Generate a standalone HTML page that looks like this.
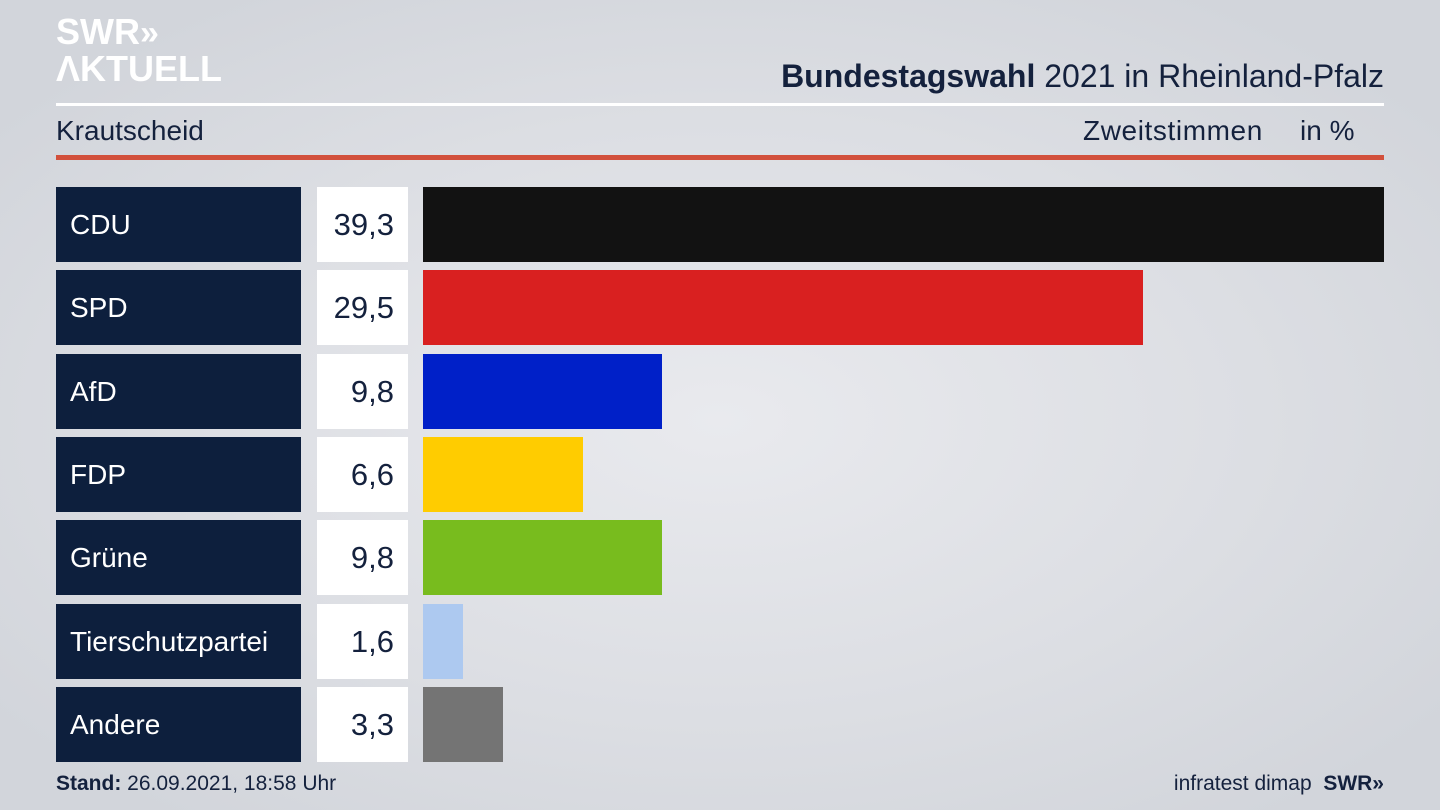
<!DOCTYPE html>
<html><head><meta charset="utf-8"><style>
body{margin:0;width:1440px;height:810px;overflow:hidden;font-family:"Liberation Sans","DejaVu Sans",sans-serif;
background:radial-gradient(ellipse 900px 500px at 720px 420px,#e9eaee 0%,#dcdee3 60%,#d2d5db 100%);position:relative;color:#14213d}
.a{position:absolute}
.lab{position:absolute;left:56px;width:245px;height:75px;background:#0d1f3d;color:#fff;font-size:28px;line-height:75px;text-indent:14px}
.val{position:absolute;left:317px;width:91px;height:75px;background:#fff;color:#14213d;font-size:31px;line-height:75px;text-align:right;box-sizing:border-box;padding-right:14px}
.bar{position:absolute;left:423px;height:75px}
</style></head><body>
<div class="a" style="left:56px;top:14px;color:#fff;font-weight:bold;font-size:36px;line-height:36px;letter-spacing:0px">SWR<span style="font-size:34px">»</span><br>ΛKTUELL</div>
<div class="a" style="right:56px;top:58px;font-size:32px;color:#14213d"><b>Bundestagswahl</b> 2021 in Rheinland-Pfalz</div>
<div class="a" style="left:56px;top:103px;width:1328px;height:3px;background:#fff"></div>
<div class="a" style="left:56px;top:115px;font-size:28px">Krautscheid</div>
<div class="a" style="left:1083px;top:115px;font-size:28px;letter-spacing:0.6px">Zweitstimmen</div>
<div class="a" style="left:1300px;top:115px;font-size:28px">in %</div>
<div class="a" style="left:56px;top:155px;width:1328px;height:5px;background:#d2503c"></div>

<div class="lab" style="top:187px">CDU</div><div class="val" style="top:187px">39,3</div><div class="bar" style="top:187px;width:961px;background:#121212"></div>
<div class="lab" style="top:270px">SPD</div><div class="val" style="top:270px">29,5</div><div class="bar" style="top:270px;width:720px;background:#d92020"></div>
<div class="lab" style="top:354px">AfD</div><div class="val" style="top:354px">9,8</div><div class="bar" style="top:354px;width:239px;background:#0020c8"></div>
<div class="lab" style="top:437px">FDP</div><div class="val" style="top:437px">6,6</div><div class="bar" style="top:437px;width:160px;background:#ffcc00"></div>
<div class="lab" style="top:520px">Grüne</div><div class="val" style="top:520px">9,8</div><div class="bar" style="top:520px;width:239px;background:#78bc1e"></div>
<div class="lab" style="top:604px">Tierschutzpartei</div><div class="val" style="top:604px">1,6</div><div class="bar" style="top:604px;width:40px;background:#adc9f0"></div>
<div class="lab" style="top:687px">Andere</div><div class="val" style="top:687px">3,3</div><div class="bar" style="top:687px;width:80px;background:#747474"></div>

<div class="a" style="left:56px;top:772px;font-size:21px"><b>Stand:</b> 26.09.2021, 18:58 Uhr</div>
<div class="a" style="right:56px;top:772px;font-size:21px">infratest dimap&nbsp;&nbsp;<b>SWR»</b></div>
</body></html>
